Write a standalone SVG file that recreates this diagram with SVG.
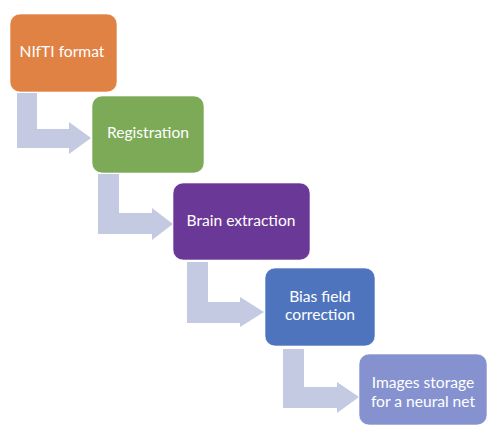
<svg xmlns="http://www.w3.org/2000/svg" width="487" height="426" viewBox="0 0 487 426">
<style>
.box{stroke:#ffffff;stroke-width:1;stroke-opacity:0.6}
.lbl{font-family:Lato,"Open Sans","Liberation Sans",sans-serif;font-size:15.6px;fill:#ffffff;text-anchor:middle}
.arr{fill:#C3CAE2}
</style>
<rect width="487" height="426" fill="#ffffff"/>
<g id="connectors">
<path class="arr" d="M17,93 H37 V129 H69 V122 L91,138 L69,154 V148 H17 Z"/>
<path class="arr" d="M98,174 H119 V213 H152 V208 L173,224 L152,240 V234 H98 Z"/>
<path class="arr" d="M187,262 H208 V302 H240 V297 L264,312 L240,327 V323 H187 Z"/>
<path class="arr" d="M283,349 H304 V387 H337 V382 L359,397 L337,413 V408 H283 Z"/>
</g>
<g id="n1"><rect class="box" x="10" y="14" width="107" height="78" rx="10" fill="#E08244"/><text class="lbl" x="62" y="57">NIfTI format</text></g>
<g id="n2"><rect class="box" x="92" y="96" width="112" height="77" rx="10" fill="#7CAA57"/><text class="lbl" x="148" y="138">Registration</text></g>
<g id="n3"><rect class="box" x="173" y="183" width="137" height="77" rx="10" fill="#6A3896"/><text class="lbl" x="241" y="226">Brain extraction</text></g>
<g id="n4"><rect class="box" x="265" y="268" width="110" height="78" rx="10" fill="#4F74BE"/><text class="lbl" x="320" y="302">Bias field</text><text class="lbl" x="320" y="320">correction</text></g>
<g id="n5"><rect class="box" x="359" y="354" width="128" height="71" rx="10" fill="#8592CF"/><text class="lbl" x="423" y="388">Images storage</text><text class="lbl" x="423" y="407">for a neural net</text></g>
</svg>
